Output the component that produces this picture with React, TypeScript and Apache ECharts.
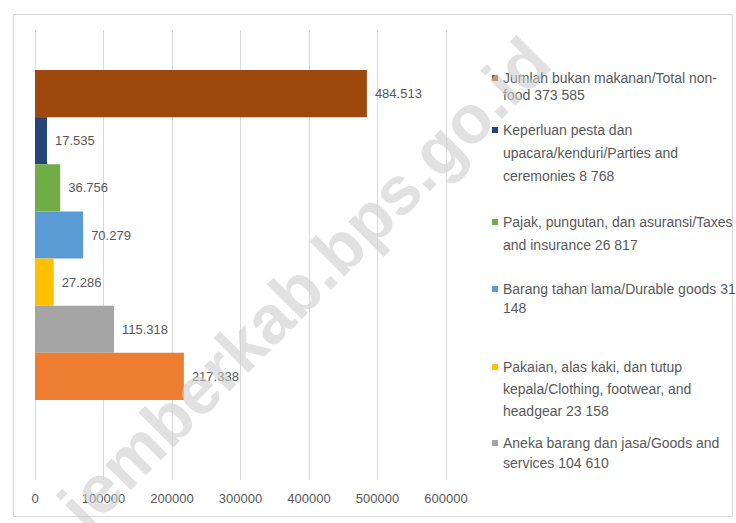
import React, { useEffect, useRef } from "react";
import * as echarts from "echarts";

const categories = [""];
const seriesNames = [
  "Jumlah bukan makanan/Total non-food 373 585",
  "Keperluan pesta dan upacara/kenduri/Parties and ceremonies 8 768",
  "Pajak, pungutan, dan asuransi/Taxes and insurance 26 817",
  "Barang tahan lama/Durable goods 31 148",
  "Pakaian, alas kaki, dan tutup kepala/Clothing, footwear, and headgear 23 158",
  "Aneka barang dan jasa/Goods and services 104 610",
  "Perumahan dan fasilitas rumah tangga/Housing and household facilities",
];
const legendWrapped = [
  "Jumlah bukan makanan/Total non-\nfood 373 585",
  "Keperluan pesta dan\nupacara/kenduri/Parties and\nceremonies 8 768",
  "Pajak, pungutan, dan asuransi/Taxes\nand insurance 26 817",
  "Barang tahan lama/Durable goods 31\n148",
  "Pakaian, alas kaki, dan tutup\nkepala/Clothing, footwear, and\nheadgear 23 158",
  "Aneka barang dan jasa/Goods and\nservices 104 610",
];
const seriesValues = [484513, 17535, 36756, 70279, 27286, 115318, 217338];
const seriesColors = ["#9E480E", "#264478", "#70AD47", "#5B9BD5", "#FFC000", "#A5A5A5", "#ED7D31"];
const xTicks = { min: 0, max: 600000, interval: 100000 };
const watermarkText = "jemberkab.bps.go.id";

const FONT = "Liberation Sans";
const TEXT = "#595959";

// layout styles for legend entries (first-line centre y, line height)
const legendFirstLineY = [78, 130, 222, 289, 367, 443];
const legendLineHeights = [17, 23, 23, 19, 22, 20];

function fmtDots(v: number) {
  return String(v).replace(/\B(?=(\d{3})+(?!\d))/g, ".");
}

export default function App() {
  const ref = useRef<HTMLDivElement>(null);
  useEffect(() => {
    if (!ref.current) return;
    const chart = echarts.init(ref.current, undefined, { renderer: "svg" });

    const legends = legendWrapped.map((txt, i) => {
      const n = txt.split("\n").length;
      const L = legendLineHeights[i];
      const H = 6 + (n - 1) * L;
      return {
        data: [seriesNames[i]],
        left: 492,
        top: legendFirstLineY[i] - L / 2,
        orient: "vertical",
        padding: 0,
        itemWidth: 6,
        itemHeight: H,
        icon: `path://M0,0h6v6h-6zM0,${H}h6`,
        selectedMode: false,
        formatter: () => txt,
        textStyle: {
          fontFamily: FONT,
          fontSize: 14,
          color: TEXT,
          lineHeight: L,
        },
      };
    });

    const series = seriesValues.map((v, i) => ({
      type: "bar",
      name: seriesNames[i],
      xAxisIndex: 1,
      yAxisIndex: 1,
      data: [v],
      barGap: "0%",
      barCategoryGap: "0%",
      itemStyle: { color: seriesColors[i] },
      label: {
        show: true,
        position: "right",
        distance: 8,
        formatter: (p: any) => fmtDots(p.value),
        fontFamily: FONT,
        fontSize: 13,
        color: TEXT,
      },
    }));

    chart.setOption({
      animation: false,
      backgroundColor: "#ffffff",
      legend: legends,
      grid: [
        { left: 35, right: 290, top: 30, bottom: 43 },
        { left: 35, right: 290, top: 70, bottom: 123 },
      ],
      xAxis: [
        {
          type: "value",
          gridIndex: 0,
          min: xTicks.min,
          max: xTicks.max,
          interval: xTicks.interval,
          axisLine: { show: false },
          axisTick: { show: false },
          splitLine: { show: true, lineStyle: { color: "#d9d9d9", width: 1 } },
          axisLabel: {
            fontFamily: FONT,
            fontSize: 13,
            color: TEXT,
            margin: 12,
            formatter: (v: number) => String(v),
          },
        },
        {
          type: "value",
          gridIndex: 1,
          min: xTicks.min,
          max: xTicks.max,
          interval: xTicks.interval,
          show: false,
        },
      ],
      yAxis: [
        { type: "category", gridIndex: 0, data: categories, show: false },
        { type: "category", gridIndex: 1, data: categories, show: false },
      ],
      graphic: [
        {
          type: "rect",
          shape: { x: 13.5, y: 14.5, width: 719, height: 502 },
          style: { fill: "none", stroke: "#d9d9d9", lineWidth: 1 },
          silent: true,
          z: 0,
        },
        {
          type: "text",
          x: 304,
          y: 283,
          rotation: Math.PI / 4,
          z: 100,
          silent: true,
          style: {
            text: watermarkText,
            font: "bold 68px Liberation Sans",
            fill: "rgba(205,205,205,0.6)",
            align: "center",
            verticalAlign: "middle",
          },
        },
      ],
      series,
    });
    return () => chart.dispose();
  }, []);
  return (
    <div
      ref={ref}
      style={{ position: "absolute", left: 0, top: 0, width: 736, height: 523 }}
    />
  );
}
